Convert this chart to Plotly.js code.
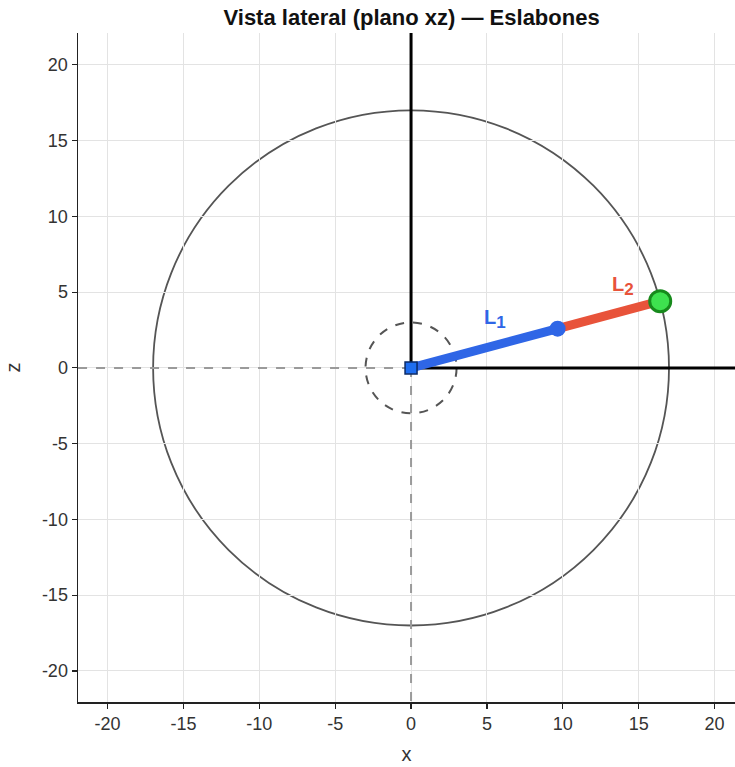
<!DOCTYPE html>
<html><head><meta charset="utf-8">
<script src="https://cdn.plot.ly/plotly-3.0.1.min.js"></script>
<style>html,body{margin:0;padding:0;background:#fff}#c{width:735px;height:767px}</style>
</head><body><div id="c"></div>
<script>
// Data
const linkNames = ['L1', 'L2'];
const linkLengths = [10, 7];
const linkAnglesDeg = [15, 15];
const reachRadii = [17, 3];          // outer workspace circle, inner dashed circle
const labelX = [5.5, 14.0];
const labelZ = [3.2, 5.4];
const tickVals = [-20, -15, -10, -5, 0, 5, 10, 15, 20];
const tickText = ['-20', '-15', '-10', '-5', '0', '5', '10', '15', '20'];

// joints
const jx = [0], jz = [0];
for (let i = 0; i < linkLengths.length; i++) {
  const a = linkAnglesDeg[i] * Math.PI / 180;
  jx.push(jx[i] + linkLengths[i] * Math.cos(a));
  jz.push(jz[i] + linkLengths[i] * Math.sin(a));
}
const blue = '#2f66e6', red = '#e8533a';
const font = 'Liberation Sans, Arial, sans-serif';

const traces = [
  {x: [0, 0], y: [0, -30], mode: 'lines', line: {color: '#9a9a9a', width: 2, dash: 'dash'}, hoverinfo: 'skip'},
  {x: [0, -30], y: [0, 0], mode: 'lines', line: {color: '#9a9a9a', width: 2, dash: 'dash'}, hoverinfo: 'skip'},
  {x: [0, 0], y: [0, 30], mode: 'lines', line: {color: '#000', width: 3}, hoverinfo: 'skip'},
  {x: [0, 30], y: [0, 0], mode: 'lines', line: {color: '#000', width: 3}, hoverinfo: 'skip'},
  {x: [jx[0], jx[1]], y: [jz[0], jz[1]], mode: 'lines', line: {color: blue, width: 9}},
  {x: [jx[1], jx[2]], y: [jz[1], jz[2]], mode: 'lines', line: {color: red, width: 9}},
  {x: [jx[1]], y: [jz[1]], mode: 'markers', marker: {color: blue, size: 16}},
  {x: [jx[0]], y: [jz[0]], mode: 'markers', marker: {color: '#1f6ef0', size: 12, symbol: 'square', line: {color: '#0b2a66', width: 1.5}}},
  {x: [jx[2]], y: [jz[2]], mode: 'markers', marker: {color: '#3ee24f', size: 21, line: {color: '#178a1c', width: 3}}}
];

const shapes = [
  {type: 'circle', xref: 'x', yref: 'y', x0: -reachRadii[0], y0: -reachRadii[0], x1: reachRadii[0], y1: reachRadii[0], line: {color: '#555', width: 1.8}, layer: 'below'},
  {type: 'circle', xref: 'x', yref: 'y', x0: -reachRadii[1], y0: -reachRadii[1], x1: reachRadii[1], y1: reachRadii[1], line: {color: '#555', width: 2, dash: 'dash'}, layer: 'below'}
];

const annotations = [
  {x: labelX[0], y: labelZ[0], text: '<b>L<sub><span style="font-size:17px">1</span></sub></b>', showarrow: false, font: {family: font, size: 20, color: blue}},
  {x: labelX[1], y: labelZ[1], text: '<b>L<sub><span style="font-size:17px">2</span></sub></b>', showarrow: false, font: {family: font, size: 20, color: red}}
];

const axisCommon = {
  tickvals: tickVals, ticktext: tickText, showgrid: true, gridcolor: '#e3e3e3', gridwidth: 1,
  zeroline: false, showline: true, linecolor: '#222', linewidth: 1.5,
  ticks: 'outside', ticklen: 5, tickcolor: '#222', tickwidth: 1.2,
  tickfont: {family: font, size: 18, color: '#333'}
};

const layout = {
  width: 735, height: 767,
  margin: {l: 78, r: 0, t: 33, b: 65},
  paper_bgcolor: '#fff', plot_bgcolor: '#fff',
  showlegend: false,
  title: {text: '<b>Vista lateral (plano xz) — Eslabones</b>', x: 0.56, xanchor: 'center', y: 0.988, yanchor: 'top', font: {family: font, size: 22, color: '#111'}},
  xaxis: Object.assign({}, axisCommon, {range: [-21.95, 21.35], title: {text: 'x', font: {family: font, size: 20, color: '#333'}, standoff: 14}}),
  yaxis: Object.assign({}, axisCommon, {range: [-22.05, 22.1], title: {text: 'z', font: {family: font, size: 20, color: '#333'}, standoff: 16}}),
  shapes: shapes, annotations: annotations
};

Plotly.newPlot('c', traces, layout, {displayModeBar: false, staticPlot: true});
</script></body></html>
